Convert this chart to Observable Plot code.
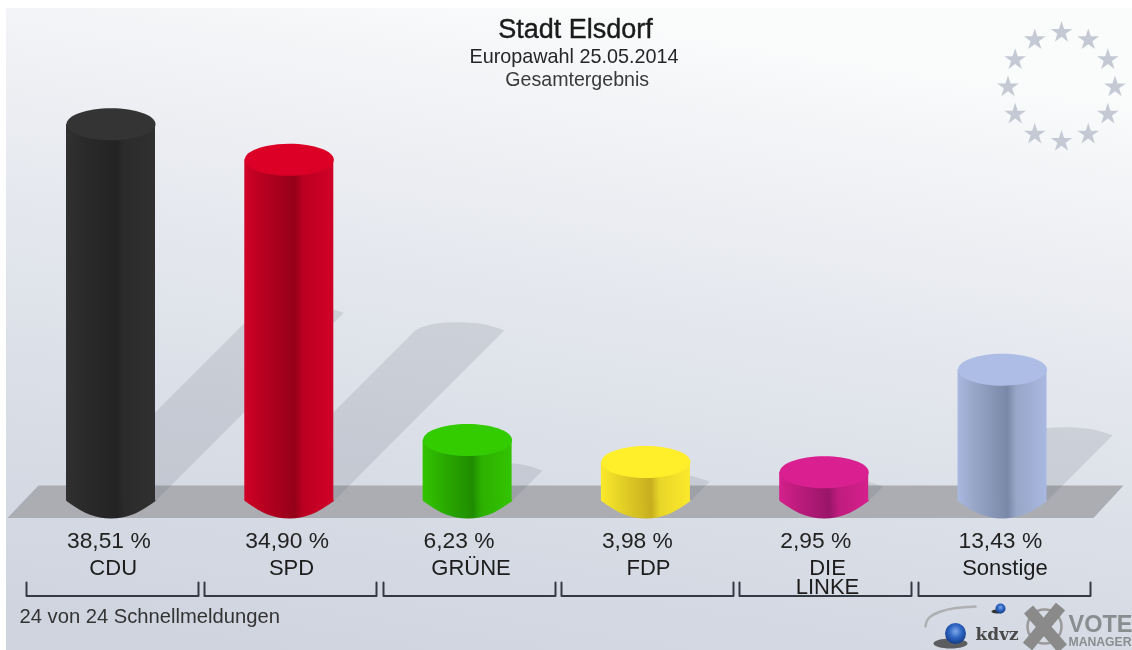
<!DOCTYPE html>
<html lang="de">
<head>
<meta charset="utf-8">
<title>Stadt Elsdorf</title>
<style>
html,body{margin:0;padding:0;background:#fff;overflow:hidden}
svg{display:block;filter:blur(0.5px)}
</style>
<script src="https://cdn.jsdelivr.net/npm/d3@7"></script>
<script src="https://cdn.jsdelivr.net/npm/@observablehq/plot@0.6"></script>
</head>
<body>
<script>
// ---- data ----
const parties = ["CDU", "SPD", "GRÜNE", "FDP", "DIE\nLINKE", "Sonstige"];
const shares = [38.51, 34.90, 6.23, 3.98, 2.95, 13.43];
const shareLabels = ["38,51 %", "34,90 %", "6,23 %", "3,98 %", "2,95 %", "13,43 %"];
const capColors = ["#343434", "#dc0026", "#33cc00", "#ffee2a", "#da2090", "#adbde6"];
const edgeColors = ["#303030", "#d10026", "#33c400", "#fbe92c", "#d5208c", "#a9b8e0"];
const midColors = ["#2b2b2b", "#bb0022", "#2cb000", "#e8d628", "#bf1c7e", "#98a6c8"];
const darkColors = ["#232323", "#940018", "#1f8c00", "#c7ae1e", "#99166a", "#7a88a8"];
const titleLines = ["Stadt Elsdorf", "Europawahl 25.05.2014", "Gesamtergebnis"];
const footerText = "24 von 24 Schnellmeldungen";
const labelCenters = [112.7, 291, 470.5, 648, 827, 1004.5];
const bracketLefts = [26, 204, 383, 561, 739, 918];
const starClock = [0, 1, 2, 3, 4, 5, 6, 7, 8, 9, 10, 11];

// ---- scale set-up: x in party slots, y in percent ----
const slotFirst = 110.5, slotStep = 178.3, baseY = 500.5, pxPerPct = 9.78;
const halfW = 44.5;
const X = (px) => (px - slotFirst) / slotStep;
const Y = (py) => (baseY - py) / pxPerPct;
const rows = parties.map((party, i) => ({party, i, share: shares[i], label: shareLabels[i]}));

const sans = "Liberation Sans, Arial, sans-serif";
const ellipse = (rx, ry) => ({draw(c) {
  const k = 0.5523;
  c.moveTo(-rx, 0);
  c.bezierCurveTo(-rx, -ry * k, -rx * k, -ry, 0, -ry);
  c.bezierCurveTo(rx * k, -ry, rx, -ry * k, rx, 0);
  c.bezierCurveTo(rx, ry * k, rx * k, ry, 0, ry);
  c.bezierCurveTo(-rx * k, ry, -rx, ry * k, -rx, 0);
  c.closePath();
}});
const lens = {draw(c) {
  c.moveTo(-halfW, -1);
  c.lineTo(-halfW, 0);
  c.bezierCurveTo(-32, 9, -20, 17.5, 0, 17.5);
  c.bezierCurveTo(20, 17.5, 32, 9, halfW, 0);
  c.lineTo(halfW, -1);
  c.closePath();
}};
const shadowShape = (share) => {
  const s = share * pxPerPct / 2, k = 0.5523, ry = 8;
  return {draw(c) {
    c.moveTo(-halfW, 0);
    c.lineTo(-halfW + s, -s);
    c.bezierCurveTo(-halfW + s + 14, -s - ry, -halfW + s + 30, -s - ry, s, -s - ry);
    c.bezierCurveTo(s + 20, -s - ry, s + 32, -s - ry * k, halfW + s, -s);
    c.lineTo(halfW, 0);
    c.closePath();
  }};
};

// gradient definitions
const defsMark = () => {
  const defs = d3.create("svg:defs");
  const bg = defs.append("linearGradient").attr("id", "bg")
    .attr("x1", 0.22).attr("y1", 1).attr("x2", 0.5).attr("y2", 0);
  [[0, "#cfd4df"], [0.3, "#d9dde6"], [0.6, "#e5e8ee"], [0.85, "#f2f3f6"], [1, "#fafbfb"]]
    .forEach(([o, c]) => bg.append("stop").attr("offset", o).attr("stop-color", c));
  rows.forEach(({i}) => {
    const g = defs.append("linearGradient").attr("id", "side" + i);
    [[0, edgeColors[i]], [0.18, midColors[i]], [0.56, darkColors[i]], [0.66, midColors[i]], [1, edgeColors[i]]]
      .forEach(([o, c]) => g.append("stop").attr("offset", o).attr("stop-color", c));
  });
  const ball = defs.append("radialGradient").attr("id", "ball").attr("cx", 0.5).attr("cy", 0.4).attr("r", 0.6);
  [[0, "#7fa8e8"], [0.5, "#2f66c4"], [1, "#123c84"]]
    .forEach(([o, c]) => ball.append("stop").attr("offset", o).attr("stop-color", c));
  return defs.node();
};

const marks = [
  defsMark,
  // backdrop
  Plot.rect([0], {x1: X(6), x2: X(1132), y1: Y(8), y2: Y(650), fill: "url(#bg)"}),
  // floor band
  Plot.line([[7, 517.5], [38, 485], [1123, 485], [1093, 517.5]],
    {x: (d) => X(d[0]), y: (d) => Y(d[1]), fill: "#abadb2", stroke: null}),
  // cast shadows
  ...rows.map((d) => Plot.dot([d], {x: "i", y: 0, symbol: shadowShape(d.share), r: 1,
    fill: "#4d5360", fillOpacity: 0.14, stroke: null})),
  // cylinders
  ...rows.map((d) => Plot.rect([d], {x1: d.i - halfW / slotStep, x2: d.i + halfW / slotStep,
    y1: 0, y2: "share", fill: `url(#side${d.i})`})),
  ...rows.map((d) => Plot.dot([d], {x: "i", y: 0, symbol: lens, r: 1,
    fill: `url(#side${d.i})`, stroke: null})),
  ...rows.map((d) => Plot.dot([d], {x: "i", y: "share", symbol: ellipse(halfW, 16), r: 1,
    fill: capColors[d.i], stroke: null})),
  // value labels
  Plot.text(rows, {x: "i", y: Y(547), text: "label", textAnchor: "start", dx: -44, lineAnchor: "bottom",
    fontFamily: sans, fontSize: 22.8, fill: "#222"}),
  // party labels (a two-line name keeps its first line on the common baseline)
  Plot.text(rows, {
    x: (d) => X(labelCenters[d.i]),
    y: (d) => Y(574 + (d.party.split("\n").length - 1) * 19),
    text: "party", lineAnchor: "bottom", lineHeight: 0.86,
    fontFamily: sans, fontSize: 22, fill: "#1c1c1c"}),
  // brackets
  ...bracketLefts.map((left) => Plot.line(
    [[left, 582], [left, 595.5], [left + 172, 595.5], [left + 172, 582]],
    {x: (d) => X(d[0]), y: (d) => Y(d[1]), stroke: "#343a44", strokeWidth: 2})),
  // titles
  Plot.text([titleLines[0]], {x: X(575), y: Y(37), text: (d) => d, lineAnchor: "bottom",
    fontFamily: sans, fontSize: 27, fill: "#1a1a1a", stroke: "#1a1a1a", strokeWidth: 0.4}),
  Plot.text([titleLines[1]], {x: X(573.5), y: Y(62), text: (d) => d, lineAnchor: "bottom",
    fontFamily: sans, fontSize: 19.8, fill: "#262626"}),
  Plot.text([titleLines[2]], {x: X(576.7), y: Y(85), text: (d) => d, lineAnchor: "bottom",
    fontFamily: sans, fontSize: 19.6, fill: "#3a3a3a"}),
  Plot.text([footerText], {x: X(19), y: Y(622.5), text: (d) => d, textAnchor: "start", lineAnchor: "bottom",
    fontFamily: sans, fontSize: 20.2, fill: "#333"}),
  // ring of stars
  Plot.dot(starClock, {
    x: (h) => X(1061 + 53.5 * Math.sin(h * Math.PI / 6)),
    y: (h) => Y(86.5 - 54.5 * Math.cos(h * Math.PI / 6)),
    symbol: "star", r: 6.8, fill: "#c4c9d4", stroke: null}),
  // kdvz logo
  Plot.line([[925, 626], [926, 618], [938, 611], [955, 607], [975, 606]], {
    x: (d) => X(d[0]), y: (d) => Y(d[1]), curve: "basis", stroke: "#aeb0b4", strokeWidth: 2.5}),
  Plot.dot([0], {x: X(950), y: Y(643), symbol: ellipse(17, 5), r: 1, fill: "#333", fillOpacity: 0.75, stroke: null}),
  Plot.dot([0], {x: X(955), y: Y(633), r: 10.5, fill: "url(#ball)", stroke: null}),
  Plot.dot([0], {x: X(997), y: Y(611), symbol: ellipse(6, 2), r: 1, fill: "#333", stroke: null}),
  Plot.dot([0], {x: X(1000), y: Y(608), r: 5, fill: "url(#ball)", stroke: null}),
  Plot.text(["kdvz"], {x: X(975), y: Y(639), text: (d) => d, textAnchor: "start", lineAnchor: "bottom",
    fontFamily: "DejaVu Serif, serif", fontWeight: 700, fontSize: 17, fill: "#4a4a4a"}),
  // vote manager logo
  Plot.dot([0], {x: X(1044), y: Y(626), r: 17, fill: "none", stroke: "#9a9a9a", strokeWidth: 2.5}),
  Plot.line([[1028, 609], [1062, 648]], {x: (d) => X(d[0]), y: (d) => Y(d[1]), stroke: "#8a8a8a", strokeWidth: 12, strokeLinecap: "butt"}),
  Plot.line([[1060, 606], [1027, 646]], {x: (d) => X(d[0]), y: (d) => Y(d[1]), stroke: "#8a8a8a", strokeWidth: 12, strokeLinecap: "butt"}),
  Plot.text(["VOTE"], {x: X(1068), y: Y(631), text: (d) => d, textAnchor: "start", lineAnchor: "bottom",
    fontFamily: sans, fontWeight: 700, fontSize: 23.5, fill: "#8a8d90"}),
  Plot.text(["MANAGER"], {x: X(1068), y: Y(645), text: (d) => d, textAnchor: "start", lineAnchor: "bottom",
    fontFamily: sans, fontWeight: 700, fontSize: 12.2, fill: "#8a8d90"})
];

const chart = Plot.plot({
  width: 1132,
  height: 650,
  margin: 0,
  style: {background: "#ffffff"},
  x: {domain: [0, 5], range: [slotFirst, slotFirst + 5 * slotStep], axis: null},
  y: {domain: [0, 10], range: [baseY, baseY - 10 * pxPerPct], axis: null},
  marks
});
document.body.appendChild(chart);
</script>
</body>
</html>
